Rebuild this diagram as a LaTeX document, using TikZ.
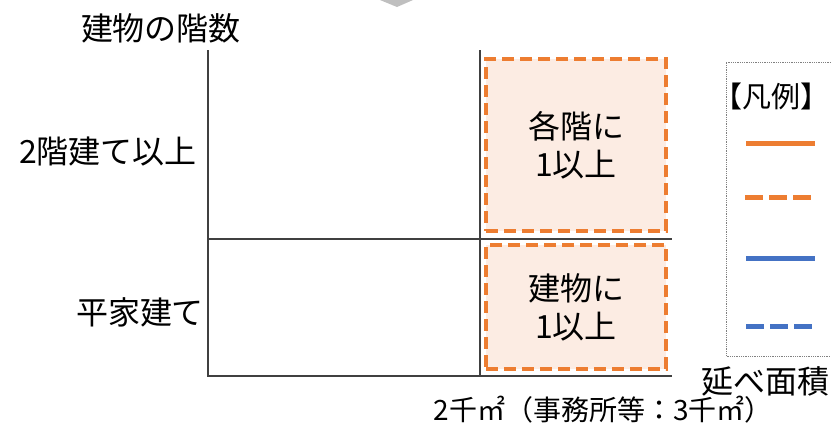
\documentclass[tikz,border=0pt]{standalone}
\usepackage{fontspec}
\setmainfont{Noto Sans CJK JP}
\definecolor{orangeline}{HTML}{ED7D31}
\definecolor{blueline}{HTML}{4472C4}
\definecolor{peach}{HTML}{FCECE3}
\definecolor{axisgray}{HTML}{404040}
\begin{document}
\begin{tikzpicture}[
    x=1pt, y=-1pt,
    axis/.style={draw=axisgray, line width=1.3pt},
    label/.style={font=\fontsize{32}{40}\selectfont, align=center},
    area/.style={fill=peach, draw=orangeline, line width=4.5pt,
        dash pattern=on 12pt off 6pt, minimum width=180pt,
        preaction={draw=white, line width=7.5pt, solid},
        font=\fontsize{32}{38}\selectfont, align=center},
    key/.style={line width=5pt}
]
\clip (0,0) rectangle (831,429);

% Pfeilspitze oben
\fill[gray!50] (380,0) -- (413,0) -- (397,7) -- cycle;

% Achsen
\coordinate (o) at (208,376);
\coordinate (ytop) at (208,50);
\coordinate (xend) at (672,376);
\coordinate (mleft) at (208,239);
\coordinate (mright) at (672,239);
\coordinate (vtop) at (480,50);
\coordinate (vbot) at (480,376);
\draw[axis] (ytop) -- (o) -- (xend);
\draw[axis] (mleft) -- (mright);
\draw[axis] (vtop) -- (vbot);

% Bereiche
\node[area, minimum height=172pt] (upper) at (576,145) {各階に\\1以上};
\node[area, minimum height=124pt] (lower) at (576,307) {建物に\\1以上};

% Beschriftungen
\node[label] (ylabel) at (161,28) {建物の階数};
\node[label] (multi) at (108,152) {2階建て以上};
\node[label] (single) at (140,312) {平家建て};
\node[label] (xlabel) at (765,381) {延べ面積};
\node[label, font=\fontsize{28}{34}\selectfont] (limit) at (603,410) {2千㎡（事務所等：3千㎡）};

% Legende
\draw[gray, densely dotted, line width=0.8pt] (840,62) -- (726,62) -- (726,356) -- (840,356);
\node[label, inner sep=0pt, font=\fontsize{29}{36}\selectfont] (legend) at (771,96) {【凡例】};
\coordinate (k1a) at (746,143); \coordinate (k1b) at (815,143);
\coordinate (k2a) at (745,197); \coordinate (k2b) at (812,197);
\coordinate (k3a) at (746,258); \coordinate (k3b) at (815,258);
\coordinate (k4a) at (746,326); \coordinate (k4b) at (812,326);
\draw[key, orangeline] (k1a) -- (k1b);
\draw[key, orangeline, dash pattern=on 18pt off 6pt] (k2a) -- (k2b);
\draw[key, blueline] (k3a) -- (k3b);
\draw[key, blueline, dash pattern=on 18pt off 6pt] (k4a) -- (k4b);

\end{tikzpicture}
\end{document}
